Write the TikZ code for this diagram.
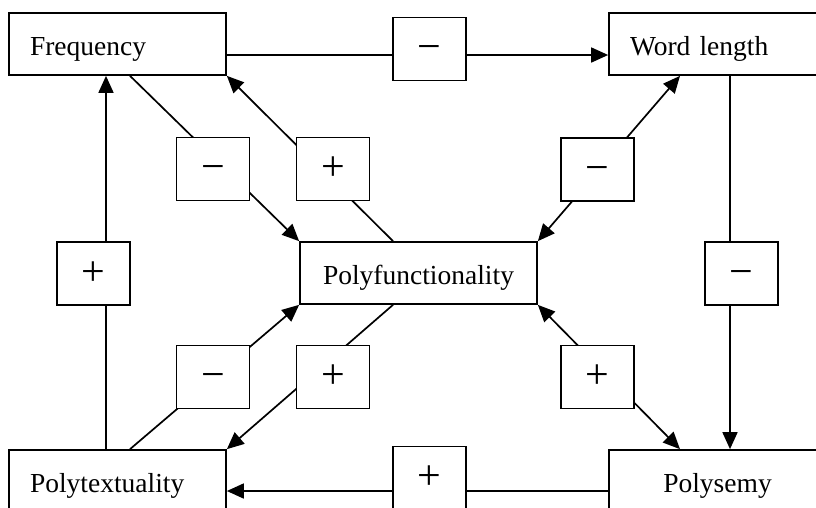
\documentclass[tikz,border=0pt]{standalone}
\usepackage{fontspec}
\setmainfont{Liberation Serif}
\usetikzlibrary{arrows.meta}
\begin{document}
\begin{tikzpicture}[x=1pt,y=-1pt,line width=1.7pt,
  concept/.style={draw, rectangle, minimum height=62pt, inner xsep=21pt, inner ysep=0pt,
    text height=22pt, text depth=0pt, font=\fontsize{27.5}{33}\selectfont},
  sign/.style={draw, fill=white, rectangle, minimum width=73pt, minimum height=63pt,
    inner sep=0pt, text height=23pt, text depth=0pt, font=\fontsize{42}{44}\selectfont},
  tip/.tip={Triangle[length=17pt,width=15pt]},
  link/.style={-tip},
  mutual/.style={tip-tip}]
\clip (0,0) rectangle (816,507);

% concepts
\node[concept, text width=175pt, align=left]   (freq) at (117.5,44)  {Frequency};
\node[concept, text width=175pt, align=left]   (wl)   at (717.5,44)  {Word length};
\node[concept, text width=175pt, align=left]   (ptx)  at (117.5,481) {Polytextuality};
\node[concept, text width=175pt, align=center] (psm)  at (717.5,481) {Polysemy};
\node[concept, text width=195pt, align=center] (pf)   at (418.5,273) {Polyfunctionality};

% influences
\draw[link] ([yshift=-11pt]freq.east) -- ([yshift=-11pt]wl.west);
\draw[link] ([xshift=12.5pt]wl.south) -- ([xshift=12.5pt]psm.north);
\draw[link] ([yshift=-10pt]psm.west) -- ([yshift=-10pt]ptx.east);
\draw[link] ([xshift=-11.5pt]ptx.north) -- ([xshift=-11.5pt]freq.south);
\draw[link] ([xshift=12.5pt]freq.south) -- (pf.north west);
\draw[link] ([xshift=-25.5pt]pf.north) -- (freq.south east);
\draw[mutual] (pf.north east) -- ([xshift=-37.5pt]wl.south);
\draw[link] ([xshift=12.5pt]ptx.north) -- (pf.south west);
\draw[link] ([xshift=-25.5pt]pf.south) -- (ptx.north east);
\draw[mutual] (pf.south east) -- ([xshift=-37.5pt]psm.north);

% signs of the influences
\node[sign] (s1)  at (429.5,49)   {−};
\node[sign] (s2)  at (213,169)    {−};
\node[sign] (s3)  at (333,169)    {+};
\node[sign] (s4)  at (597.5,169.5){−};
\node[sign] (s5)  at (93.5,273.5) {+};
\node[sign] (s6)  at (741.5,273.5){−};
\node[sign] (s7)  at (213,377)    {−};
\node[sign] (s8)  at (333,377)    {+};
\node[sign] (s9)  at (597.5,377)  {+};
\node[sign] (s10) at (429.5,478)  {+};
\end{tikzpicture}
\end{document}
